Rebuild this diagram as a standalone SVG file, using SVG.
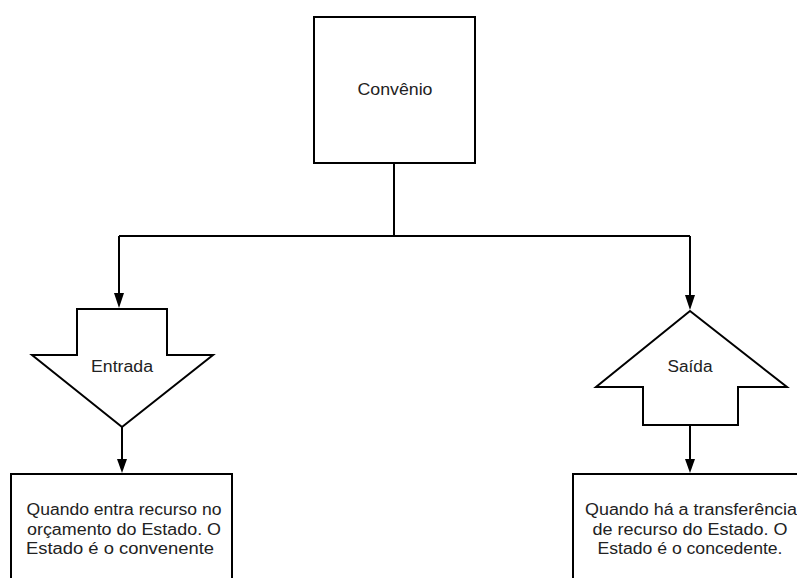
<svg xmlns="http://www.w3.org/2000/svg" width="797" height="578" viewBox="0 0 797 578">
<style>
.s{fill:#fff;stroke:#000;stroke-width:2}
.c{fill:none;stroke:#000;stroke-width:2}
text{font-family:"Liberation Sans",Arial,sans-serif;font-size:16px;fill:#222;text-anchor:middle}
</style>
<defs>
<marker id="ah" markerWidth="10" markerHeight="14" refX="5" refY="14" orient="auto-start-reverse" markerUnits="userSpaceOnUse" viewBox="0 0 10 14">
<path d="M0,0 L10,0 L5,14 Z" fill="#000"/>
</marker>
</defs>
<rect width="797" height="578" fill="#fff"/>
<g id="connectors">
<path class="c" d="M394,163 V236"/>
<path class="c" d="M119,236 H690"/>
<path class="c" d="M119,236 V293"/>
<path d="M114,293 L124,293 L119,308 Z" fill="#000"/>
<path class="c" d="M690,236 V295"/>
<path d="M685,295 L695,295 L690,310 Z" fill="#000"/>
<path class="c" d="M122,427 V459"/>
<path d="M117,459 L127,459 L122,473 Z" fill="#000"/>
<path class="c" d="M690,425 V459"/>
<path d="M685,459 L695,459 L690,473 Z" fill="#000"/>
</g>
<g id="convenio">
<rect class="s" x="314" y="17" width="161" height="146"/>
<text x="395" y="95" textLength="75" lengthAdjust="spacingAndGlyphs">Convênio</text>
</g>
<g id="entrada">
<path class="s" d="M77,309 H167 V355 H213 L122,427 L32,355 H77 Z"/>
<text x="122" y="372" textLength="62" lengthAdjust="spacingAndGlyphs">Entrada</text>
</g>
<g id="saida">
<path class="s" d="M690,311 L787,387 H738 V425 H643 V387 H596 Z"/>
<text x="690" y="372" textLength="45" lengthAdjust="spacingAndGlyphs">Saída</text>
</g>
<g id="box-entrada">
<rect class="s" x="11" y="474" width="221" height="120"/>
<text x="124" y="515" textLength="195" lengthAdjust="spacingAndGlyphs">Quando entra recurso no</text>
<text x="124" y="535" textLength="194" lengthAdjust="spacingAndGlyphs">orçamento do Estado. O</text>
<text x="120" y="554" textLength="188" lengthAdjust="spacingAndGlyphs">Estado é o convenente</text>
</g>
<g id="box-saida">
<rect class="s" x="573" y="474" width="240" height="120"/>
<text x="691" y="515" textLength="212" lengthAdjust="spacingAndGlyphs">Quando há a transferência</text>
<text x="690" y="535" textLength="195" lengthAdjust="spacingAndGlyphs">de recurso do Estado. O</text>
<text x="690" y="554" textLength="185" lengthAdjust="spacingAndGlyphs">Estado é o concedente.</text>
</g>
</svg>
